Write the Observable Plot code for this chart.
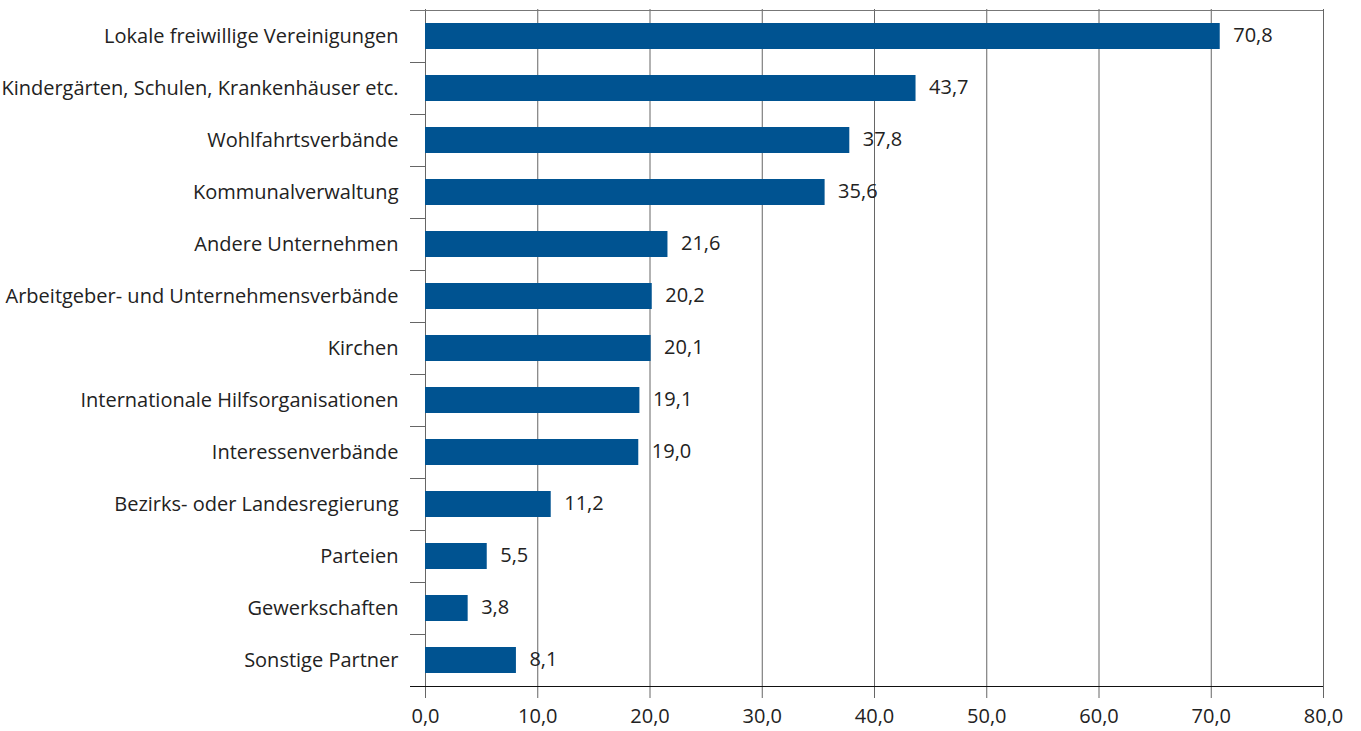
<!DOCTYPE html>
<html>
<head>
<meta charset="utf-8">
<script src="https://cdn.jsdelivr.net/npm/d3@7"></script>
<script src="https://cdn.jsdelivr.net/npm/@observablehq/plot@0.6"></script>
<style>
  body { margin: 0; background: #fff; }
  #chart svg { display: block; }
</style>
</head>
<body>
<div id="chart"></div>
<script>
const categories = [
  "Lokale freiwillige Vereinigungen",
  "Kindergärten, Schulen, Krankenhäuser etc.",
  "Wohlfahrtsverbände",
  "Kommunalverwaltung",
  "Andere Unternehmen",
  "Arbeitgeber- und Unternehmensverbände",
  "Kirchen",
  "Internationale Hilfsorganisationen",
  "Interessenverbände",
  "Bezirks- oder Landesregierung",
  "Parteien",
  "Gewerkschaften",
  "Sonstige Partner"
];
const values = [70.8, 43.7, 37.8, 35.6, 21.6, 20.2, 20.1, 19.1, 19.0, 11.2, 5.5, 3.8, 8.1];
const xTicks = [0, 10, 20, 30, 40, 50, 60, 70, 80];

const data = categories.map((c, i) => ({category: c, value: values[i]}));
const fmt = v => v.toFixed(1).replace(".", ",");
const half = 26;

const chart = Plot.plot({
  width: 1361,
  height: 731,
  marginLeft: 425,
  marginRight: 38,
  marginTop: 9,
  marginBottom: 45,
  style: {fontFamily: "'Open Sans', sans-serif", fontSize: "20px", color: "#222", background: "#fff"},
  x: {domain: [0, 80], ticks: xTicks, label: null},
  y: {domain: categories, paddingInner: 0.5, paddingOuter: 0.25, label: null},
  marks: [
    Plot.ruleX(xTicks, {stroke: "#666", strokeWidth: 1, insetBottom: -12}),
    Plot.ruleY(categories.slice(1), {y: d => d, x1: 0, x2: 0, dy: -half, insetLeft: -15, stroke: "#666"}),
    Plot.ruleY([categories[0]], {y: d => d, x1: 0, x2: 80, dy: -half, insetLeft: -15, stroke: "#777"}),
    Plot.barX(data, {y: "category", x: "value", fill: "#005391"}),
    Plot.ruleY([categories[categories.length - 1]], {y: d => d, x1: 0, x2: 80, dy: half, insetLeft: -15, stroke: "#111"}),
    Plot.text(data, {y: "category", x: "value", text: d => fmt(d.value), textAnchor: "start", dx: 13, dy: -1, fill: "#222", fontSize: 20}),
    Plot.axisX(xTicks, {tickSize: 0, tickPadding: 22, tickFormat: fmt, fontSize: 20, fill: "#222", label: null}),
    Plot.axisY({tickSize: 0, tickPadding: 27, fontSize: 20, fill: "#222", label: null})
  ]
});
document.getElementById("chart").appendChild(chart);
</script>
</body>
</html>
